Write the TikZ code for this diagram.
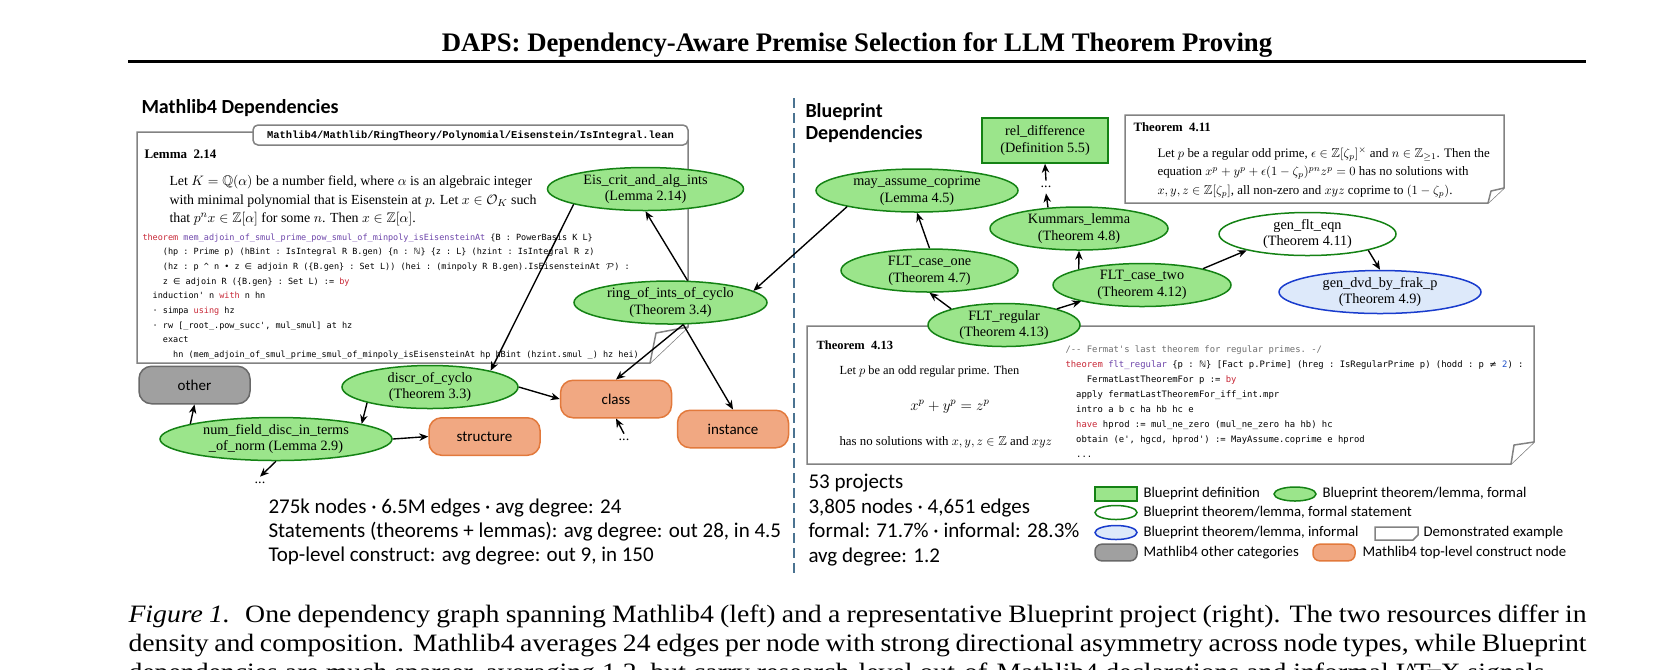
\documentclass[tikz,border=0pt]{standalone}
\usepackage{amssymb}
\usepackage{fontspec}
\setmainfont{Liberation Serif}
\setsansfont{Carlito}
\setmonofont{DejaVu Sans Mono}
\newfontfamily\pathfont{Liberation Mono}
\newfontfamily\symfont{DejaVu Sans}
\newfontfamily\capfont{Liberation Serif}[FakeStretch=1.11]
\usetikzlibrary{shapes.geometric, arrows.meta, positioning}
\definecolor{lemmafill}{RGB}{155,229,139}
\definecolor{lemmadraw}{RGB}{20,130,20}
\definecolor{infofill}{RGB}{221,233,250}
\definecolor{infodraw}{RGB}{25,60,205}
\definecolor{constfill}{RGB}{241,168,130}
\definecolor{constdraw}{RGB}{226,121,60}
\definecolor{otherfill}{RGB}{160,160,160}
\definecolor{otherdraw}{RGB}{105,105,105}
\definecolor{notedraw}{RGB}{130,130,130}
\definecolor{sepblue}{RGB}{75,115,145}
\definecolor{kwred}{RGB}{200,40,55}
\definecolor{kwviolet}{RGB}{110,70,170}
\definecolor{cmtgray}{RGB}{110,110,110}
\definecolor{numblue}{RGB}{30,80,200}
\tikzset{lab/.style={font=\fontsize{5.7}{6.7}\selectfont,align=center},
         formal/.style={ellipse,draw=lemmadraw,fill=lemmafill,line width=0.6pt,minimum height=17.2pt,inner sep=0pt,lab},
         stmt/.style={formal,fill=white},
         informal/.style={formal,draw=infodraw,fill=infofill},
         defbox/.style={rectangle,draw=lemmadraw,fill=lemmafill,line width=0.6pt,inner sep=0pt,lab},
         construct/.style={rectangle,rounded corners=5pt,draw=constdraw,fill=constfill,line width=0.6pt,minimum width=44.4pt,minimum height=15pt,font=\sffamily\fontsize{6}{7}\selectfont},
         otherbox/.style={construct,draw=otherdraw,fill=otherfill},
         moredots/.style={inner sep=2pt,font=\fontsize{5.7}{6.7}\selectfont},
         note/.style={draw=notedraw,fill=white,line width=0.6pt},
         prose/.style={anchor=north west,inner sep=0pt,align=left},
         codeblk/.style={anchor=north west,inner sep=0pt,align=left},
         stats/.style={anchor=north west,inner sep=0pt,align=left,font=\sffamily\fontsize{8.4}{9.75}\selectfont},
         legtext/.style={anchor=west,inner sep=0pt,font=\sffamily\fontsize{5.9}{7}\selectfont},
         sepline/.style={draw=sepblue,line width=0.6pt,dash pattern=on 4pt off 2pt},
         arrow/.style={-{Stealth[length=3.6pt,width=3pt]},line width=0.55pt}}

\begin{document}
\begin{tikzpicture}[x=0.4pt,y=-0.4pt]
    \useasboundingbox (0,0) rectangle (1677,669);
    \clip (0,0) rectangle (1677,669);
    % page header
    \node[anchor=base,font=\bfseries\fontsize{10.7}{12}\selectfont] (title) at (857,51) {DAPS: Dependency-Aware Premise Selection for LLM Theorem Proving};
    \draw[line width=1.2pt] (128,61.5) -- (1586,61.5);
    \draw[sepline] (794,98) -- (794,578);
    \node[anchor=west,inner sep=0pt,font=\sffamily\bfseries\fontsize{8}{8.8}\selectfont] (mathhead) at (141,108) {Mathlib4 Dependencies};
    \node[prose,font=\sffamily\bfseries\fontsize{8}{8.8}\selectfont] (bphead) at (805,103) {Blueprint\\Dependencies};

    % Mathlib4 example card
    \draw[note] (137,132) -- (688,132) -- (688,327) -- (650,363) -- (137,363) -- cycle;
    \draw[note] (650,363) -- (656,333) -- (688,327);
    \draw[note,rounded corners=2pt] (253,125) rectangle (688,145);
    \node[inner sep=0pt,font=\pathfont\bfseries\fontsize{4.17}{5}\selectfont] (lemmapath) at (470.5,135.5) {Mathlib4/Mathlib/RingTheory/Polynomial/Eisenstein/IsIntegral.lean};
    \node[anchor=west,inner sep=0pt,font=\bfseries\fontsize{5.2}{6}\selectfont] (lemmahead) at (144,154) {Lemma~~2.14};
    \node[prose,font=\fontsize{11.1}{14.6}\selectfont] (lemmatext) at (169,175) {\scalebox{0.5}{\vbox{%
      \hbox{Let $K=\mathbb{Q}(\alpha)$ be a number field, where $\alpha$ is an algebraic integer}
      \hbox{with minimal polynomial that is Eisenstein at $p$. Let $x\in\mathcal{O}_K$ such}
      \hbox{that $p^n x\in\mathbb{Z}[\alpha]$ for some $n$. Then $x\in\mathbb{Z}[\alpha]$.}}}};
    \node[codeblk,font=\ttfamily\fontsize{3.4}{5.88}\selectfont] (lemmacode) at (142,233) {%
      {\color{kwred}theorem} {\color{kwviolet}mem\_adjoin\_of\_smul\_prime\_pow\_smul\_of\_minpoly\_isEisensteinAt} \{B : PowerBasis K L\}\\
      ~~~~(hp : Prime p) (hBint : IsIntegral R B.gen) \{n : {\symfont ℕ}\} \{z : L\} (hzint : IsIntegral R z)\\
      ~~~~(hz : p \textasciicircum{} n {\symfont •} z {\symfont ∈} adjoin R (\{B.gen\} : Set L)) (hei : (minpoly R B.gen).IsEisensteinAt \scalebox{0.68}{$\mathcal{P}$}) :\\
      ~~~~z {\symfont ∈} adjoin R (\{B.gen\} : Set L) := {\color{kwred}by}\\
      ~~induction' n {\color{kwred}with} n hn\\
      ~~\textperiodcentered{} simpa {\color{kwred}using} hz\\
      ~~\textperiodcentered{} rw [\_root\_.pow\_succ', mul\_smul] at hz\\
      ~~~~exact\\
      ~~~~~~hn (mem\_adjoin\_of\_smul\_prime\_smul\_of\_minpoly\_isEisensteinAt hp hBint (hzint.smul \_) hz hei)};

    % Blueprint example cards
    \draw[note] (1125,115) -- (1504,115) -- (1504,188) -- (1488,203) -- (1125,203) -- cycle;
    \draw[note] (1488,203) -- (1491,191) -- (1504,188);
    \node[anchor=west,inner sep=0pt,font=\bfseries\fontsize{5.1}{6}\selectfont] (thmhead) at (1133,127) {Theorem~~4.11};
    \node[prose,font=\fontsize{10.35}{14.8}\selectfont] (thmtext) at (1157,147) {\scalebox{0.5}{\vbox{%
      \hbox{Let $p$ be a regular odd prime, $\epsilon\in\mathbb{Z}[\zeta_p]^\times$ and $n\in\mathbb{Z}_{\geq 1}$. Then the}
      \hbox{equation $x^p+y^p+\epsilon(1-\zeta_p)^{pn}z^p=0$ has no solutions with}
      \hbox{$x,y,z\in\mathbb{Z}[\zeta_p]$, all non-zero and $xyz$ coprime to $(1-\zeta_p)$.}}}};

    \draw[note] (807,326) -- (1534,326) -- (1534,442) -- (1511,464) -- (807,464) -- cycle;
    \draw[note] (1511,464) -- (1514,445) -- (1534,442);
    \node[anchor=west,inner sep=0pt,font=\bfseries\fontsize{5}{6}\selectfont] (flthead) at (816,345) {Theorem~~4.13};
    \node[anchor=base west,inner sep=0pt,font=\fontsize{9.9}{12}\selectfont] (fltlet) at (839,374.7) {\scalebox{0.5}{Let $p$ be an odd regular prime. Then}};
    \node[anchor=base,inner sep=0pt,font=\fontsize{12}{14}\selectfont] (flteq) at (950,410) {\scalebox{0.5}{$x^p+y^p=z^p$}};
    \node[anchor=base west,inner sep=0pt,font=\fontsize{10.3}{12}\selectfont] (fltnone) at (839,445.7) {\scalebox{0.5}{has no solutions with $x,y,z\in\mathbb{Z}$ and $xyz$}};
    \node[codeblk,font=\ttfamily\fontsize{3.55}{6}\selectfont] (fltcode) at (1065,345) {%
      {\color{cmtgray}/-{}- Fermat's last theorem for regular primes. -/}\\
      {\color{kwred}theorem} {\color{kwviolet}flt\_regular} \{p : {\symfont ℕ}\} [Fact p.Prime] (hreg : IsRegularPrime p) (hodd : p {\symfont ≠} {\color{numblue}2}) :\\
      ~~~~FermatLastTheoremFor p := {\color{kwred}by}\\
      ~~apply fermatLastTheoremFor\_iff\_int.mpr\\
      ~~intro a b c ha hb hc e\\
      ~~{\color{kwred}have} hprod := mul\_ne\_zero (mul\_ne\_zero ha hb) hc\\
      ~~obtain (e', hgcd, hprod') := MayAssume.coprime e hprod\\
      ~~...};

    % Mathlib4 graph
    \node[formal,minimum width=78.4pt] (eiscrit) at (645.5,189) {Eis\_crit\_and\_alg\_ints\\(Lemma 2.14)};
    \node[formal,minimum width=77.2pt] (ringints) at (670.5,302.5) {ring\_of\_ints\_of\_cyclo\\(Theorem 3.4)};
    \node[formal,minimum width=70.4pt] (discr) at (430,387) {discr\_of\_cyclo\\(Theorem 3.3)};
    \node[formal,minimum width=92.8pt] (numfield) at (276,439) {num\_field\_disc\_in\_terms\\\_of\_norm (Lemma 2.9)};
    \node[otherbox] (other) at (194.5,385) {other};
    \node[construct] (class) at (616,399) {class};
    \node[construct] (struct) at (484.5,436.5) {structure};
    \node[construct] (inst) at (733,429) {instance};
    \node[moredots] (morecls) at (624,440) {...};
    \node[moredots] (morenum) at (260,483) {...};
    \draw[arrow] (ringints.52) -- (eiscrit.south);
    \draw[arrow] (eiscrit.192) -- (discr.15);
    \draw[arrow] (ringints.300) -- (class.north);
    \draw[arrow] (ringints.300) -- (inst.north);
    \draw[arrow] (discr.east) -- (class.west);
    \draw[arrow] (discr.194) -- (numfield.10);
    \draw[arrow] (numfield.170) -- (other.south);
    \draw[arrow] (numfield.east) -- (struct.west);
    \draw[arrow] (numfield.south) -- (morenum.north);
    \draw[arrow] (morecls.north) -- (class.south);

    % Blueprint graph
    \node[defbox,minimum width=50.4pt,minimum height=18pt] (reldiff) at (1045,140.5) {rel\_difference\\(Definition 5.5)};
    \node[moredots] (moredef) at (1046,187) {...};
    \node[formal,minimum width=80.8pt] (mayassume) at (917,190.5) {may\_assume\_coprime\\(Lemma 4.5)};
    \node[formal,minimum width=71.2pt] (kummer) at (1079,228.5) {Kummars\_lemma\\(Theorem 4.8)};
    \node[formal,minimum width=70.8pt] (caseone) at (929.5,270.5) {FLT\_case\_one\\(Theorem 4.7)};
    \node[formal,minimum width=71.2pt] (casetwo) at (1142,285) {FLT\_case\_two\\(Theorem 4.12)};
    \node[stmt,minimum width=70.8pt] (genflt) at (1307.5,234) {gen\_flt\_eqn\\(Theorem 4.11)};
    \node[informal,minimum width=80.8pt] (gendvd) at (1380,292) {gen\_dvd\_by\_frak\_p\\(Theorem 4.9)};
    \node[formal,minimum width=60.8pt] (fltreg) at (1004,325) {FLT\_regular\\(Theorem 4.13)};
    \draw[arrow] (mayassume.193) -- (ringints.8);
    \draw[arrow] (fltreg.163) -- (caseone.south);
    \draw[arrow] (fltreg.17) -- (casetwo.195);
    \draw[arrow] (caseone.north) -- (mayassume.south);
    \draw[arrow] (casetwo.166) -- (kummer.south);
    \draw[arrow] (kummer.146) -- (moredef.south);
    \draw[arrow] (moredef.north) -- (reldiff.south);
    \draw[arrow] (casetwo.15) -- (genflt.195);
    \draw[arrow] (genflt.345) -- (gendvd.north);

    % statistics
    \node[stats] (mathstats) at (268,498) {275k nodes · 6.5M edges · avg degree: 24\\Statements (theorems + lemmas): avg degree: out 28, in 4.5\\Top-level construct: avg degree: out 9, in 150};
    \node[stats] (bpstats) at (808,474) {53 projects\\3,805 nodes · 4,651 edges\\formal: 71.7\% · informal: 28.3\%\\avg degree: 1.2};

    % legend
    \node[defbox,minimum width=16.8pt,minimum height=5.6pt] (legdef) at (1116,494) {};
    \node[legtext] (legdeft) at (1143,494) {Blueprint definition};
    \node[formal,minimum width=16.8pt,minimum height=5.6pt] (legformal) at (1295,494) {};
    \node[legtext] (legformalt) at (1322,494) {Blueprint theorem/lemma, formal};
    \node[stmt,minimum width=16.8pt,minimum height=5.6pt] (legstmt) at (1116,512.5) {};
    \node[legtext] (legstmtt) at (1143,512.5) {Blueprint theorem/lemma, formal statement};
    \node[informal,minimum width=16.8pt,minimum height=5.6pt] (leginf) at (1116,532.5) {};
    \node[legtext] (leginft) at (1143,532.5) {Blueprint theorem/lemma, informal};
    \draw[note] (1375,527) -- (1418,527) -- (1418,535) -- (1413,540) -- (1375,540) -- cycle;
    \node[legtext] (legext) at (1423,532.5) {Demonstrated example};
    \node[otherbox,minimum width=16.8pt,minimum height=5.4pt,rounded corners=2.7pt] (legother) at (1116,552.5) {};
    \node[legtext] (legothert) at (1143,552.5) {Mathlib4 other categories};
    \node[construct,minimum width=16.8pt,minimum height=5.4pt,rounded corners=2.7pt] (legtop) at (1334,552.5) {};
    \node[legtext] (legtopt) at (1362,552.5) {Mathlib4 top-level construct node};

    % caption
    \node[anchor=north west,inner sep=0pt,text width=583.2pt,align=justify,font=\capfont\fontsize{10}{11.6}\selectfont] (caption) at (128,604.5) {\textit{Figure 1.}~ One dependency graph spanning Mathlib4 (left) and a representative Blueprint project (right). The two resources differ in\linebreak density and composition. Mathlib4 averages 24 edges per node with strong directional asymmetry across node types, while Blueprint\linebreak dependencies are much sparser, averaging 1.2, but carry research-level out-of-Mathlib4 declarations and informal \LaTeX{} signals.};
\end{tikzpicture}
\end{document}
